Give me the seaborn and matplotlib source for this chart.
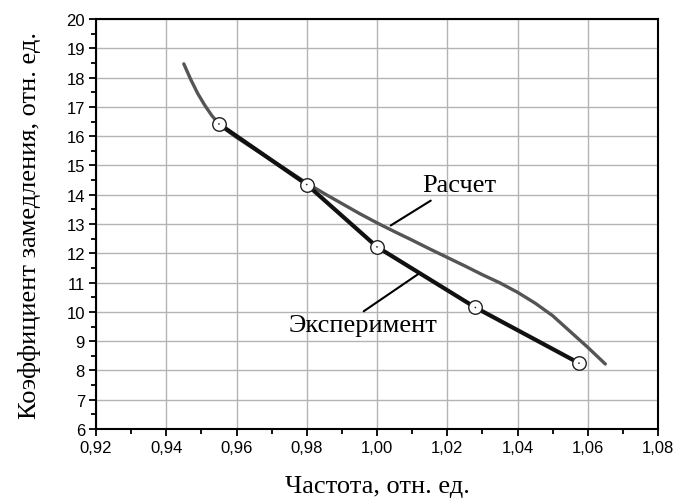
import matplotlib
matplotlib.use("Agg")
import matplotlib.pyplot as plt
import seaborn as sns
import pandas as pd
from matplotlib.ticker import MultipleLocator, FixedLocator, FixedFormatter

# Data
calc_x = [0.945, 0.947, 0.949, 0.951, 0.953, 0.955, 0.957, 0.960, 0.965, 0.970,
          0.975, 0.980, 0.985, 0.990, 0.995, 1.000, 1.005, 1.010, 1.015, 1.020,
          1.025, 1.030, 1.035, 1.040, 1.045, 1.050, 1.055, 1.060, 1.065]
calc_y = [18.47, 17.93, 17.45, 17.05, 16.70, 16.42, 16.22, 15.96, 15.57, 15.18,
          14.79, 14.40, 14.04, 13.70, 13.36, 13.04, 12.74, 12.45, 12.15, 11.86,
          11.57, 11.27, 10.99, 10.67, 10.30, 9.87, 9.33, 8.79, 8.22]
exp_x = [0.955, 0.980, 1.000, 1.028, 1.0575]
exp_y = [16.42, 14.35, 12.22, 10.15, 8.25]

x_ticks = [0.92, 0.94, 0.96, 0.98, 1.00, 1.02, 1.04, 1.06, 1.08]
x_tick_labels = ["0,92", "0,94", "0,96", "0,98", "1,00", "1,02", "1,04", "1,06", "1,08"]
y_ticks = list(range(6, 21))
y_tick_labels = [str(v) for v in y_ticks]

label_calc = "Расчет"
label_exp = "Эксперимент"
x_label = "Частота, отн. ед."
y_label = "Коэффициент замедления, отн. ед."

# annotation anchors (data coordinates)
calc_text_xy = (1.0233, 14.34)
calc_leader_x = [1.0039, 1.0153]
calc_leader_y = [12.95, 13.80]
exp_text_xy = (0.9959, 9.54)
exp_leader_x = [0.9962, 1.0116]
exp_leader_y = [10.02, 11.28]

sns.set_theme(style="white")
plt.rcParams['font.family'] = ['Liberation Sans', 'DejaVu Sans']

calc_df = pd.DataFrame({"x": calc_x, "y": calc_y})
exp_df = pd.DataFrame({"x": exp_x, "y": exp_y})

fig = plt.figure(figsize=(6.78, 5.02), dpi=100)
ax = fig.add_axes([0.1416, 0.1434, 0.9705 - 0.1416, 0.960 - 0.1434])

sns.lineplot(data=calc_df, x="x", y="y", sort=False, ax=ax, color="#555555",
             linewidth=2.4, estimator=None, zorder=3)
sns.lineplot(data=exp_df, x="x", y="y", sort=False, ax=ax, color="#111111",
             linewidth=3.0, estimator=None, zorder=4)
sns.scatterplot(data=exp_df, x="x", y="y", ax=ax, s=95, color="white",
                edgecolor="#222222", linewidth=1.0, zorder=5)
sns.scatterplot(data=exp_df, x="x", y="y", ax=ax, s=1.5, color="#222222",
                edgecolor="none", zorder=6)

ax.set_xlim(0.92, 1.08)
ax.set_ylim(6, 20)
ax.xaxis.set_major_locator(FixedLocator(x_ticks))
ax.xaxis.set_major_formatter(FixedFormatter(x_tick_labels))
ax.xaxis.set_minor_locator(MultipleLocator(0.01))
ax.yaxis.set_major_locator(FixedLocator(y_ticks))
ax.yaxis.set_major_formatter(FixedFormatter(y_tick_labels))
ax.yaxis.set_minor_locator(MultipleLocator(0.5))

ax.grid(True, which="major", color="#b4b4b4", linewidth=1.0, zorder=0)
ax.set_axisbelow(True)
for side, sp in ax.spines.items():
    sp.set_visible(True)
    sp.set_color("black")
    sp.set_linewidth(1.5)

ax.tick_params(which="major", direction="out", length=5, width=1.3, color="black",
               labelsize=12, labelcolor="black", bottom=True, left=True,
               top=False, right=False, pad=3)
ax.tick_params(which="minor", direction="out", length=3.5, width=1.3, color="black",
               bottom=True, left=True, top=False, right=False)

serif = ['Liberation Serif', 'DejaVu Serif']
ax.set_xlabel(x_label, fontsize=19, family=serif, color="black", labelpad=14)
ax.set_ylabel(y_label, fontsize=19, family=serif, color="black", labelpad=18)

ax.plot(calc_leader_x, calc_leader_y, color="black", lw=1.5, zorder=7)
ax.plot(exp_leader_x, exp_leader_y, color="black", lw=1.5, zorder=7)
ax.text(*calc_text_xy, label_calc, fontsize=19, family=serif, ha="center",
        va="center", color="black", zorder=7)
ax.text(*exp_text_xy, label_exp, fontsize=19, family=serif, ha="center",
        va="center", color="black", zorder=7)

fig.savefig("out.png", dpi=100, facecolor="white")
